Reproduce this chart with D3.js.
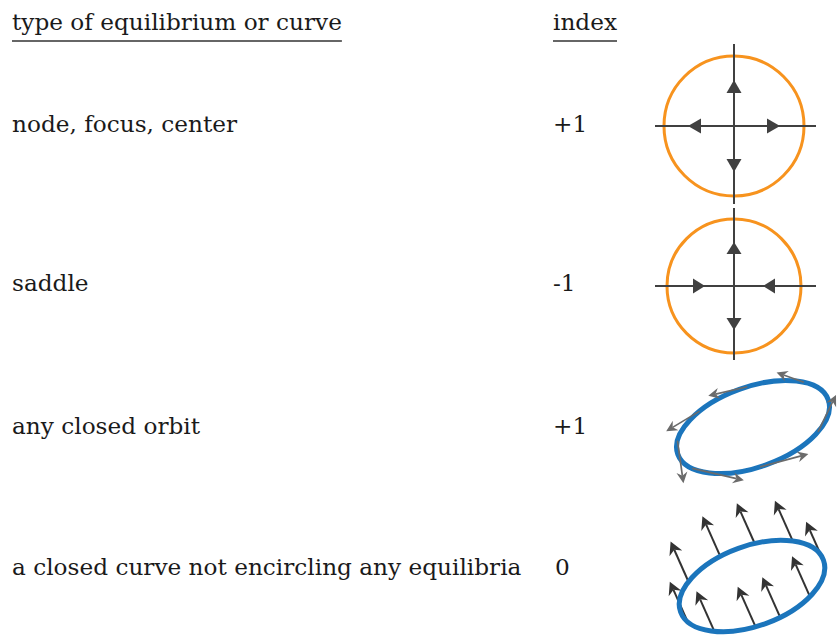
<!DOCTYPE html>
<html>
<head>
<meta charset="utf-8">
<script src="https://cdn.jsdelivr.net/npm/d3@7/dist/d3.min.js"></script>
<style>
  html, body { margin: 0; padding: 0; background: #ffffff; }
  svg { display: block; }
</style>
</head>
<body>
<script>
// ---------- data ----------
const headers = ["type of equilibrium or curve", "index"];
const rowLabels = ["node, focus, center", "saddle", "any closed orbit", "a closed curve not encircling any equilibria"];
const indexLabels = ["+1", "-1", "+1", "0"];

// equilibrium diagrams: arrow direction along each half-axis (1 = outward, -1 = inward)
// order: up, down, left, right
const nodeArrows = [1, 1, 1, 1];
const saddleArrows = [1, 1, -1, -1];

// closed orbit: tangent-ish arrows (ellipse parameter in degrees, screen direction in degrees, length)
const orbitParam = [38, 84, 124, 161, 207, 265, 318];
const orbitAngle = [-160, 167, 149, 82, 13, -15, -64];
const orbitLength = [29, 40, 39, 43, 53, 50, 41];

// uniform field on a curve not enclosing equilibria (ellipse parameters in degrees)
const fieldParam = [140, 105, 77, 45, -3, 197, 228, 262, 282, 312];
const fieldAngle = -114;
const fieldLength = 44;

// ---------- setup ----------
const W = 839, H = 635;
const svg = d3.select("body").append("svg").attr("width", W).attr("height", H);

const FONT = "'DejaVu Serif', 'Liberation Serif', serif";
const FS = 23.2;
const textCol = "#1a1a1a";
const axisCol = "#404040";
const orange = "#F7931E";
const blue = "#1B75BC";

const rowY = d3.scaleOrdinal().domain(d3.range(4)).range([131.5, 291, 434, 575]);
const colX = d3.scaleOrdinal().domain(["label", "index"]).range([12, 553]);

// headers
headers.forEach((h, i) => {
  const x0 = colX(i === 0 ? "label" : "index");
  const t = svg.append("text")
    .attr("x", x0).attr("y", 30)
    .attr("font-family", FONT).attr("font-size", FS).attr("fill", textCol)
    .text(h);
  const w = t.node().getComputedTextLength();
  svg.append("line")
    .attr("x1", x0).attr("x2", x0 + w)
    .attr("y1", 41).attr("y2", 41)
    .attr("stroke", "#333").attr("stroke-width", 1.3);
});

// row labels and indices
rowLabels.forEach((r, i) => {
  svg.append("text").attr("x", colX("label")).attr("y", rowY(i))
    .attr("font-family", FONT).attr("font-size", FS).attr("fill", textCol).text(r);
  svg.append("text").attr("x", colX("index") + (indexLabels[i] === "0" ? 2 : 0)).attr("y", rowY(i))
    .attr("font-family", FONT).attr("font-size", FS).attr("fill", textCol).text(indexLabels[i]);
});

// ---------- equilibrium diagrams ----------
function equilibrium(cx, cy, r, vExt, hExt, dirs, tipOut, baseOut, tipIn, baseIn) {
  const g = svg.append("g");
  g.append("circle").attr("cx", cx).attr("cy", cy).attr("r", r)
    .attr("fill", "none").attr("stroke", orange).attr("stroke-width", 3);
  g.append("line").attr("x1", cx).attr("x2", cx).attr("y1", vExt[0]).attr("y2", vExt[1])
    .attr("stroke", axisCol).attr("stroke-width", 2);
  g.append("line").attr("x1", hExt[0]).attr("x2", hExt[1]).attr("y1", cy).attr("y2", cy)
    .attr("stroke", axisCol).attr("stroke-width", 2);
  const units = [[0, -1], [0, 1], [-1, 0], [1, 0]];
  const hw = 7.5;
  units.forEach((u, i) => {
    const out = dirs[i] > 0;
    const tipD = out ? tipOut : tipIn;
    const baseD = out ? baseOut : baseIn;
    const tip = [cx + u[0] * tipD, cy + u[1] * tipD];
    const base = [cx + u[0] * baseD, cy + u[1] * baseD];
    const p = [-u[1], u[0]];
    const pts = [tip, [base[0] + p[0] * hw, base[1] + p[1] * hw], [base[0] - p[0] * hw, base[1] - p[1] * hw]];
    g.append("path").attr("d", "M" + pts.map(q => q.join(",")).join("L") + "Z").attr("fill", axisCol);
  });
}
equilibrium(734, 126, 70, [44, 204], [655, 816], nodeArrows, 46, 33, 0, 0);
equilibrium(734, 286, 67, [208, 360], [655, 816], saddleArrows, 44, 32, 29, 41);

// ---------- ellipse helpers ----------
const ROTD = 20;
const ROT = ROTD * Math.PI / 180;
function ellPoint(cx, cy, a, b, tDeg) {
  const t = tDeg * Math.PI / 180;
  const x = a * Math.cos(t), y = -b * Math.sin(t);
  return [cx + x * Math.cos(ROT) + y * Math.sin(ROT), cy - x * Math.sin(ROT) + y * Math.cos(ROT)];
}
function arrow(g, tail, angDeg, len, col, sw, hl, hw, ind) {
  const a = angDeg * Math.PI / 180;
  const ux = Math.cos(a), uy = Math.sin(a);
  const tip = [tail[0] + ux * len, tail[1] + uy * len];
  const back = [tip[0] - ux * hl, tip[1] - uy * hl];
  const inner = [tip[0] - ux * (hl - ind), tip[1] - uy * (hl - ind)];
  const px = -uy, py = ux;
  g.append("line").attr("x1", tail[0]).attr("y1", tail[1]).attr("x2", inner[0]).attr("y2", inner[1])
    .attr("stroke", col).attr("stroke-width", sw);
  const pts = [tip, [back[0] + px * hw, back[1] + py * hw], inner, [back[0] - px * hw, back[1] - py * hw]];
  g.append("path").attr("d", "M" + pts.map(q => q.join(",")).join("L") + "Z").attr("fill", col);
}

// ---------- closed orbit ----------
{
  const cx = 753, cy = 427, a = 80, b = 40;
  const g = svg.append("g");
  g.append("ellipse").attr("cx", 0).attr("cy", 0).attr("rx", a).attr("ry", b)
    .attr("transform", `translate(${cx},${cy}) rotate(${-ROTD})`)
    .attr("fill", "none").attr("stroke", blue).attr("stroke-width", 5);
  orbitParam.forEach((t, i) => {
    arrow(g, ellPoint(cx, cy, a, b, t), orbitAngle[i], orbitLength[i], "#6b6b6b", 1.7, 11, 5.5, 3.5);
  });
}

// ---------- curve with no equilibria ----------
{
  const cx = 752, cy = 586, a = 76, b = 40;
  const g = svg.append("g");
  fieldParam.forEach(t => {
    arrow(g, ellPoint(cx, cy, a, b, t), fieldAngle, fieldLength, "#333333", 2, 13, 7, 4);
  });
  g.append("ellipse").attr("cx", 0).attr("cy", 0).attr("rx", a).attr("ry", b)
    .attr("transform", `translate(${cx},${cy}) rotate(${-ROTD})`)
    .attr("fill", "none").attr("stroke", blue).attr("stroke-width", 5);
}
</script>
</body>
</html>
